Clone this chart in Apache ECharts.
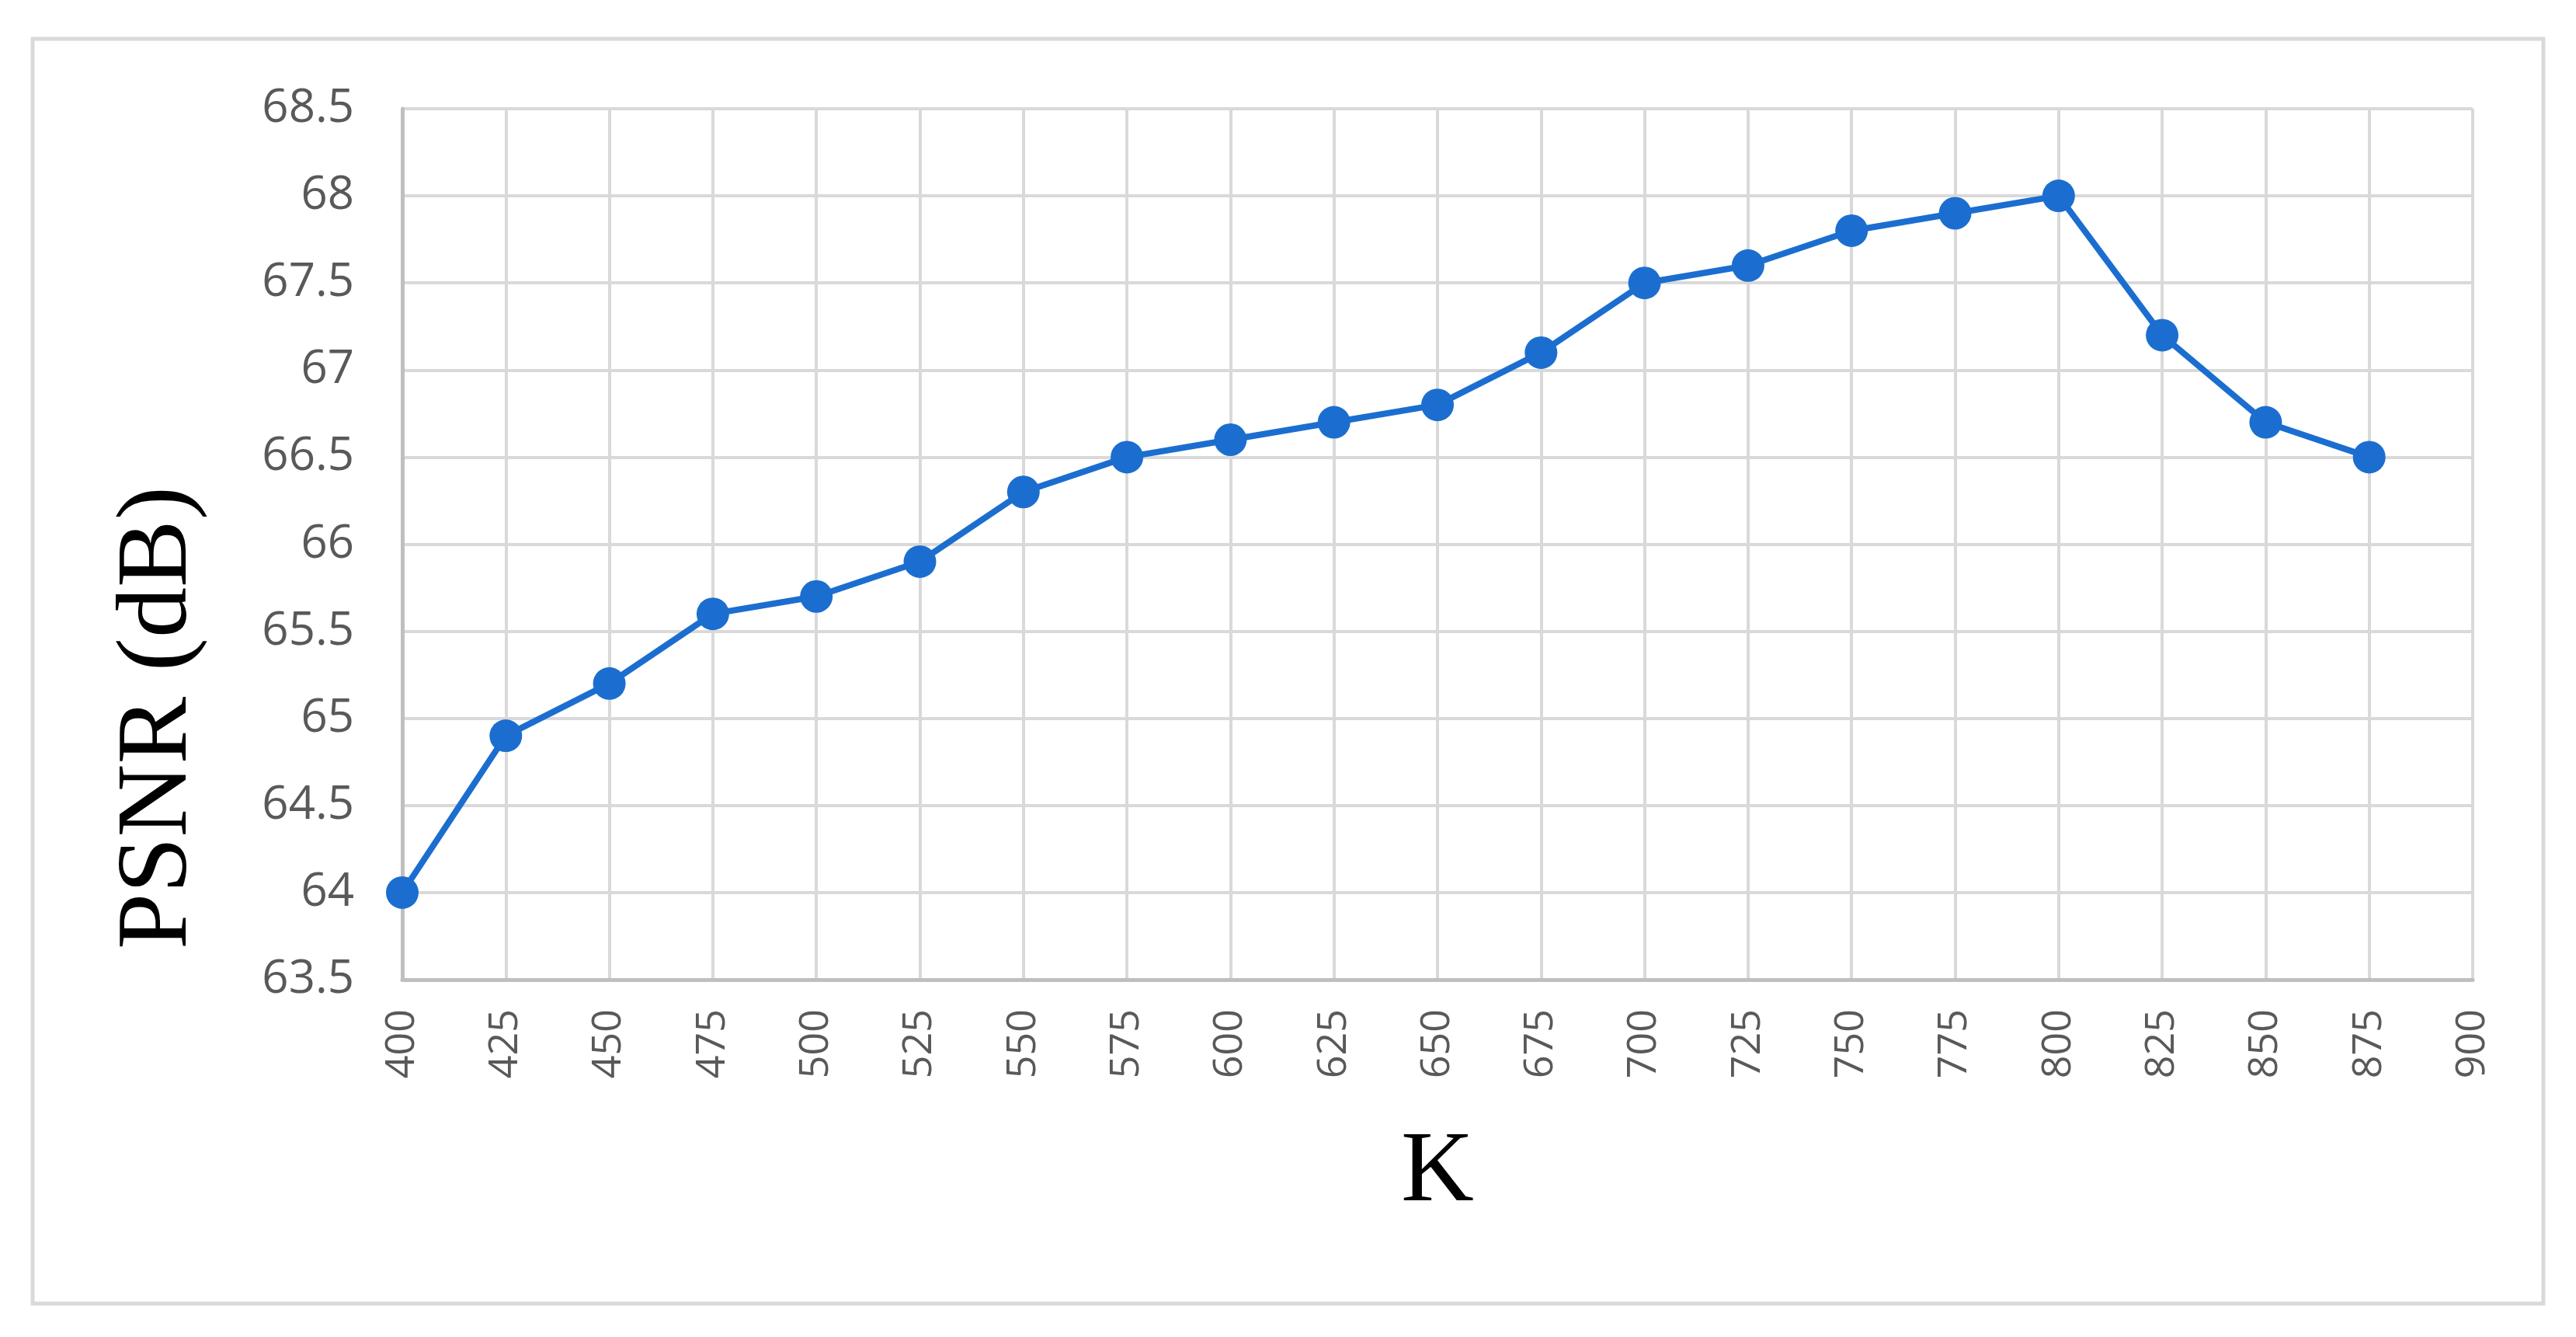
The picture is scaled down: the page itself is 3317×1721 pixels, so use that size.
<!DOCTYPE html>
<html>
<head>
<meta charset="utf-8">
<script src="https://cdn.jsdelivr.net/npm/echarts@6/dist/echarts.min.js"></script>
<style>
  html, body { margin: 0; padding: 0; background: #fff; }
  #chart { width: 3317px; height: 1721px; }
</style>
</head>
<body>
<div id="chart"></div>
<script>
const kValues = [400, 425, 450, 475, 500, 525, 550, 575, 600, 625, 650, 675, 700, 725, 750, 775, 800, 825, 850, 875];
const psnrValues = [64.0, 64.9, 65.2, 65.6, 65.7, 65.9, 66.3, 66.5, 66.6, 66.7, 66.8, 67.1, 67.5, 67.6, 67.8, 67.9, 68.0, 67.2, 66.7, 66.5];

const chart = echarts.init(document.getElementById('chart'));

const gridColor = '#d9d9d9';
const labelColor = '#595959';

const option = {
    backgroundColor: '#fff',
    animation: false,
    grid: {
        left: 518,
        right: 133,
        top: 140,
        bottom: 460
    },
    graphic: [
        {
            type: 'rect',
            shape: { x: 42, y: 50, width: 3233, height: 1628 },
            style: { fill: 'none', stroke: gridColor, lineWidth: 5 },
            z: 0
        },
        {
            type: 'text',
            x: 205,
            y: 924,
            rotation: Math.PI / 2,
            style: {
                text: 'PSNR (dB)',
                font: '130px "Liberation Serif"',
                fill: '#000',
                align: 'center',
                verticalAlign: 'middle'
            }
        }
    ],
    xAxis: {
        type: 'value',
        min: 400,
        max: 900,
        interval: 25,
        name: 'K',
        nameLocation: 'middle',
        nameGap: 185,
        nameTextStyle: {
            fontFamily: 'Liberation Serif',
            fontSize: 130,
            color: '#000'
        },
        axisLine: { show: true, lineStyle: { color: '#bfbfbf', width: 5 } },
        axisTick: { show: false },
        splitLine: { show: true, lineStyle: { color: gridColor, width: 4 } },
        axisLabel: {
            rotate: 90,
            margin: 38,
            fontFamily: 'Open Sans',
            fontSize: 52,
            color: labelColor
        }
    },
    yAxis: {
        type: 'value',
        min: 63.5,
        max: 68.5,
        interval: 0.5,
        axisLine: { show: true, lineStyle: { color: '#bfbfbf', width: 5 } },
        axisTick: { show: false },
        splitLine: { show: true, lineStyle: { color: gridColor, width: 4 } },
        axisLabel: {
            margin: 62,
            fontFamily: 'Open Sans',
            fontSize: 60,
            color: labelColor
        }
    },
    series: [{
        type: 'line',
        data: kValues.map((k, i) => [k, psnrValues[i]]),
        symbol: 'circle',
        symbolSize: 42,
        itemStyle: { color: '#1b6ecf' },
        lineStyle: { color: '#1b6ecf', width: 8 },
        z: 5
    }]
};

chart.setOption(option);
</script>
</body>
</html>
